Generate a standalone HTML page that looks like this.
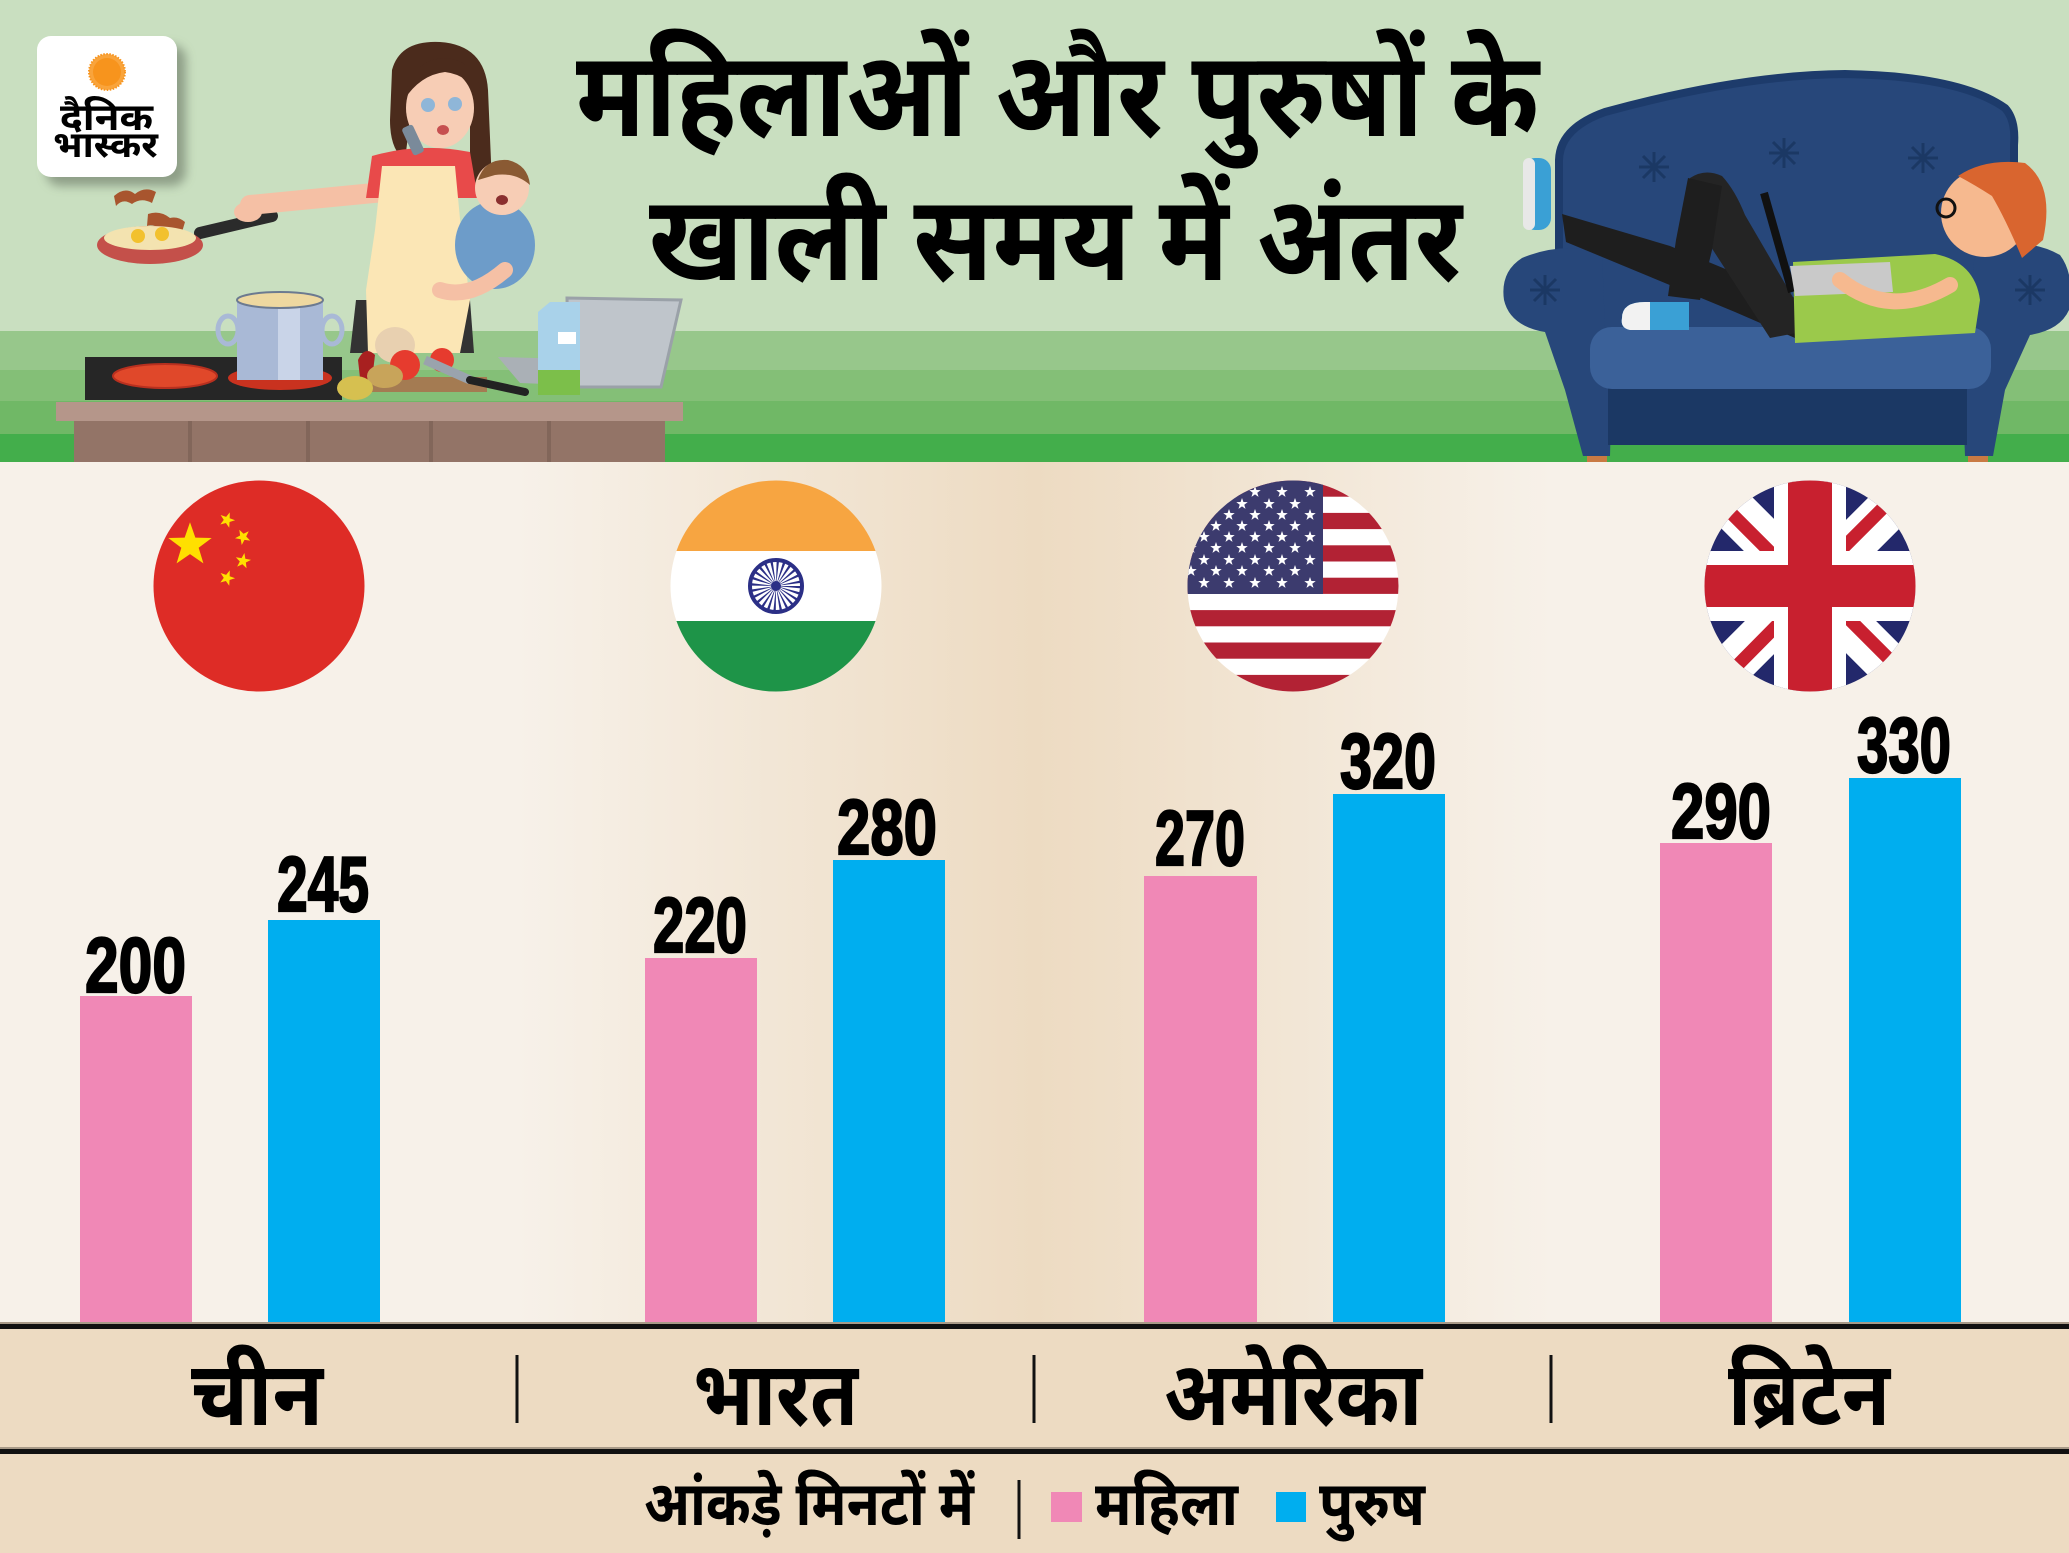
<!DOCTYPE html>
<html>
<head>
<meta charset="utf-8">
<style>
html,body{margin:0;padding:0;background:#f7f1e9;}
svg{display:block;}
.dev{font-family:"Noto Sans Devanagari","Lohit Devanagari","Mukta","Hind","Kohinoor Devanagari","Mangal","FreeSans","Liberation Sans",sans-serif;font-weight:700;fill:#000;}
.num{font-family:"Liberation Sans Narrow","Liberation Sans",sans-serif;font-weight:700;fill:#000;stroke:#000;stroke-width:2.2;}
</style>
</head>
<body>
<svg width="2069" height="1553" viewBox="0 0 2069 1553" xmlns="http://www.w3.org/2000/svg">
<defs>
  <linearGradient id="bg" x1="0" y1="0" x2="1" y2="0">
    <stop offset="0" stop-color="#f7f1e9"/>
    <stop offset="0.25" stop-color="#f7f1e9"/>
    <stop offset="0.5" stop-color="#eddbc2"/>
    <stop offset="0.75" stop-color="#f7f1e9"/>
    <stop offset="1" stop-color="#f7f1e9"/>
  </linearGradient>
  <filter id="sh" x="-20%" y="-20%" width="150%" height="150%">
    <feGaussianBlur stdDeviation="5"/>
  </filter>
  <polygon id="star" points="0,-6 1.41,-1.94 5.71,-1.85 2.28,0.74 3.53,4.85 0,2.4 -3.53,4.85 -2.28,0.74 -5.71,-1.85 -1.41,-1.94"/>
  <clipPath id="cUS"><circle cx="1293" cy="586" r="105.5"/></clipPath>
  <clipPath id="cUK"><circle cx="1810" cy="586" r="105.5"/></clipPath>
  <clipPath id="cIN"><circle cx="776" cy="586" r="105.5"/></clipPath>
</defs>

<!-- HEADER BACKGROUND -->
<rect x="0" y="0" width="2069" height="331" fill="#c9dfc0"/>
<rect x="0" y="331" width="2069" height="39" fill="#97c78b"/>
<rect x="0" y="370" width="2069" height="31" fill="#84bf77"/>
<rect x="0" y="401" width="2069" height="33" fill="#70b866"/>
<rect x="0" y="434" width="2069" height="28" fill="#43ae4b"/>

<!-- LOGO -->
<rect x="46" y="45" width="140" height="141" rx="14" fill="#5f6b5a" opacity="0.55" filter="url(#sh)"/>
<rect x="37" y="36" width="140" height="141" rx="14" fill="#ffffff"/>
<circle cx="107" cy="72" r="18" fill="#f9a43c" stroke="#f7941d" stroke-width="2" stroke-dasharray="1.5 1.5"/>
<circle cx="107" cy="72" r="14" fill="#f7941d"/>
<text class="dev" x="60" y="130" font-size="38" textLength="93" lengthAdjust="spacingAndGlyphs">दैनिक</text>
<text class="dev" x="53" y="157" font-size="36" textLength="105" lengthAdjust="spacingAndGlyphs">भास्कर</text>

<!-- TITLE -->
<text class="dev" x="576" y="136" font-size="120" textLength="963" lengthAdjust="spacingAndGlyphs">महिलाओं और पुरुषों के</text>
<text class="dev" x="649" y="280" font-size="120" textLength="813" lengthAdjust="spacingAndGlyphs">खाली समय में अंतर</text>

<!-- KITCHEN ILLUSTRATION -->
<path d="M114,196 Q125,186 135,194 Q145,186 156,192 L152,203 Q141,197 132,204 Q123,198 116,206 Z" fill="#a8552e"/>
<path d="M148,214 Q160,210 170,218 Q178,216 185,222 L182,232 Q170,226 160,228 Q152,224 147,226 Z" fill="#a8552e"/>
<path d="M200,233 L272,216" stroke="#2b2b2b" stroke-width="12" stroke-linecap="round"/>
<ellipse cx="150" cy="245" rx="53" ry="19" fill="#c4504a"/>
<ellipse cx="150" cy="238" rx="46" ry="12" fill="#f3e3b0"/>
<circle cx="138" cy="236" r="7" fill="#f2c12e"/>
<circle cx="162" cy="234" r="7" fill="#f2c12e"/>
<path d="M384,192 L250,205" stroke="#f5c0a5" stroke-width="20" stroke-linecap="round"/>
<ellipse cx="248" cy="212" rx="14" ry="10" fill="#f5c0a5"/>
<path d="M392,70 Q400,40 440,42 Q485,45 488,90 L492,185 Q480,195 470,178 L470,120 L410,120 L405,160 Q390,150 390,120 Z" fill="#4b2b1c"/>
<path d="M350,353 L356,300 L470,300 L474,353 Z" fill="#333333"/>
<path d="M372,156 Q420,142 470,152 L478,198 L366,198 Z" fill="#e84a4a"/>
<path d="M382,166 L455,166 L462,240 L470,300 L460,353 L368,353 L366,290 L375,230 Z" fill="#fbe6b5"/>
<ellipse cx="440" cy="108" rx="34" ry="40" fill="#f7cdb5"/>
<path d="M404,100 Q410,60 445,58 Q478,60 482,100 Q470,75 445,72 Q420,75 404,100 Z" fill="#4b2b1c"/>
<circle cx="428" cy="105" r="7" fill="#8fb6d8"/>
<circle cx="455" cy="104" r="7" fill="#8fb6d8"/>
<ellipse cx="443" cy="130" rx="6" ry="5" fill="#c65050"/>
<rect x="407" y="125" width="12" height="30" rx="3" fill="#7a8a9a" transform="rotate(-25 413 140)"/>
<ellipse cx="495" cy="245" rx="40" ry="44" fill="#6d9cc9"/>
<circle cx="502" cy="188" r="27" fill="#f7cdb5"/>
<path d="M478,180 Q485,158 508,160 Q528,165 530,185 Q515,172 495,175 Z" fill="#8a5a33"/>
<ellipse cx="502" cy="200" rx="6" ry="5" fill="#8a2f2f"/>
<path d="M440,290 Q470,300 505,270" stroke="#f5c0a5" stroke-width="16" fill="none" stroke-linecap="round"/>
<rect x="85" y="357" width="257" height="43" fill="#262626"/>
<ellipse cx="165" cy="376" rx="52" ry="12" fill="#e0482a" stroke="#b8301f" stroke-width="2"/>
<ellipse cx="280" cy="378" rx="52" ry="12" fill="#c9321f"/>
<ellipse cx="228" cy="330" rx="10" ry="14" fill="none" stroke="#a9b9d6" stroke-width="5"/>
<ellipse cx="332" cy="330" rx="10" ry="14" fill="none" stroke="#a9b9d6" stroke-width="5"/>
<rect x="237" y="300" width="86" height="80" fill="#a9b9d6"/>
<rect x="278" y="300" width="22" height="80" fill="#c9d4e8"/>
<ellipse cx="280" cy="300" rx="43" ry="8" fill="#eed8a0" stroke="#6c7a90" stroke-width="2"/>
<rect x="353" y="377" width="134" height="15" fill="#a47b52"/>
<ellipse cx="395" cy="345" rx="20" ry="18" fill="#e8d0b0"/>
<circle cx="405" cy="365" r="15" fill="#e63b2e"/>
<circle cx="442" cy="360" r="12" fill="#e63b2e"/>
<path d="M358,360 Q365,345 375,355 L372,380 L360,378 Z" fill="#a82020"/>
<ellipse cx="385" cy="376" rx="18" ry="12" fill="#c8a45a"/>
<ellipse cx="355" cy="388" rx="18" ry="12" fill="#d6c050"/>
<path d="M425,360 L470,380" stroke="#9aa3ad" stroke-width="9"/>
<path d="M470,380 L525,392" stroke="#222" stroke-width="8" stroke-linecap="round"/>
<polygon points="498,357 571,359 571,385 520,383" fill="#aab0b6"/>
<polygon points="567,298 681,300 661,387 569,387" fill="#bfc5cb" stroke="#9aa1a8" stroke-width="3"/>
<polygon points="538,312 550,302 580,302 580,395 538,395" fill="#a9d2ea"/>
<rect x="538" y="370" width="42" height="25" fill="#7cbf4a"/>
<rect x="558" y="332" width="18" height="12" fill="#ffffff"/>
<rect x="56" y="402" width="627" height="19" fill="#b5968a"/>
<rect x="74" y="421" width="591" height="41" fill="#937467"/>
<rect x="188" y="421" width="4" height="41" fill="#82665a"/>
<rect x="306" y="421" width="4" height="41" fill="#82665a"/>
<rect x="429" y="421" width="4" height="41" fill="#82665a"/>
<rect x="547" y="421" width="4" height="41" fill="#82665a"/>

<!-- SOFA -->
<path d="M1559,335 L1559,160 Q1560,128 1605,112 Q1740,75 1845,74 Q1960,76 2005,108 Q2016,120 2014,145 L2014,335 Z" fill="#27477a" stroke="#1d3b6b" stroke-width="8"/>
<g stroke="#1b3864" stroke-width="3">
<path d="M1654,152 L1654,182 M1639,167 L1669,167 M1643,156 L1665,178 M1665,156 L1643,178"/>
<path d="M1784,138 L1784,168 M1769,153 L1799,153 M1773,142 L1795,164 M1795,142 L1773,164"/>
<path d="M1923,143 L1923,173 M1908,158 L1938,158 M1912,147 L1934,169 M1934,147 L1912,169"/>
</g>
<path d="M1602,252 Q1560,242 1522,258 Q1500,272 1504,300 Q1510,326 1545,332 L1565,390 L1583,456 L1610,456 L1612,380 L1605,330 Z" fill="#27477a"/>
<path d="M1975,250 Q2025,235 2060,255 Q2075,275 2069,310 Q2060,330 2030,335 L2005,390 L1993,456 L1965,456 L1962,380 L1968,330 Z" fill="#27477a"/>
<g stroke="#1b3864" stroke-width="3">
<path d="M1545,275 L1545,305 M1530,290 L1560,290 M1534,279 L1556,301 M1556,279 L1534,301"/>
<path d="M2030,275 L2030,305 M2015,290 L2045,290 M2019,279 L2041,301 M2041,279 L2019,301"/>
</g>
<rect x="1608" y="385" width="359" height="60" fill="#1b3864"/>
<rect x="1590" y="327" width="401" height="62" rx="22" fill="#3b6199"/>
<rect x="1587" y="456" width="20" height="6" fill="#c97a43"/>
<rect x="1968" y="456" width="20" height="6" fill="#c97a43"/>
<!-- man -->
<path d="M1562,214 L1670,246 L1800,300 L1795,338 L1735,312 L1566,242 Z" fill="#1e1e1e"/>
<path d="M1690,178 Q1705,168 1722,176 Q1735,190 1745,215 L1812,330 L1770,338 L1700,230 Z" fill="#242424"/>
<path d="M1688,178 L1722,186 L1712,250 L1700,300 L1668,296 L1676,240 Z" fill="#1e1e1e"/>
<rect x="1523" y="158" width="28" height="72" rx="12" fill="#3aa0d5"/>
<rect x="1523" y="158" width="12" height="72" rx="6" fill="#e8e8e8"/>
<path d="M1622,318 Q1622,302 1645,302 L1689,302 L1689,330 L1630,330 Q1620,328 1622,318 Z" fill="#3aa0d5"/>
<path d="M1622,318 Q1622,302 1645,302 L1650,302 L1650,330 L1630,330 Q1620,328 1622,318 Z" fill="#f2f2f2"/>
<path d="M1793,262 L1935,254 Q1975,262 1980,300 L1975,333 L1795,343 Z" fill="#9bc94b"/>
<circle cx="1985" cy="213" r="44" fill="#f6b98f"/>
<path d="M1958,176 Q1985,158 2025,163 Q2055,185 2043,240 L2022,258 Q2006,220 1992,196 Q1975,185 1958,176 Z" fill="#d9652f"/>
<circle cx="1946" cy="208" r="9" fill="none" stroke="#111" stroke-width="3"/>
<path d="M1764,193 L1792,292" stroke="#111" stroke-width="8"/>
<polygon points="1790,266 1890,262 1893,292 1795,296" fill="#c9c9c9"/>
<path d="M1950,285 Q1890,320 1840,280" stroke="#f6b98f" stroke-width="16" fill="none" stroke-linecap="round"/>

<!-- CHART BACKGROUND -->
<rect x="0" y="462" width="2069" height="863" fill="url(#bg)"/>

<!-- FLAGS -->
<circle cx="259" cy="586" r="105.5" fill="#de2c26"/>
<g fill="#ffe000">
<use href="#star" transform="translate(190,545) scale(3.8)"/>
<use href="#star" transform="translate(227,520) rotate(20) scale(1.35)"/>
<use href="#star" transform="translate(243,537) rotate(45) scale(1.35)"/>
<use href="#star" transform="translate(243,561) rotate(10) scale(1.35)"/>
<use href="#star" transform="translate(227,578) rotate(20) scale(1.35)"/>
</g>
<g clip-path="url(#cIN)">
<rect x="670" y="480" width="212" height="71" fill="#f7a541"/>
<rect x="670" y="551" width="212" height="70" fill="#ffffff"/>
<rect x="670" y="621" width="212" height="72" fill="#1e9448"/>
</g>
<circle cx="776" cy="586" r="13" fill="none" stroke="#2b2f86" stroke-width="24" stroke-dasharray="1.3 2.1"/>
<circle cx="776" cy="586" r="26" fill="none" stroke="#2b2f86" stroke-width="4"/>
<circle cx="776" cy="586" r="5" fill="#2b2f86"/>
<g clip-path="url(#cUS)">
<rect x="1187" y="480" width="212" height="213" fill="#ffffff"/>
<g fill="#b22234">
<rect x="1187" y="480.5" width="212" height="16.2"/>
<rect x="1187" y="512.9" width="212" height="16.2"/>
<rect x="1187" y="545.3" width="212" height="16.2"/>
<rect x="1187" y="577.7" width="212" height="16.2"/>
<rect x="1187" y="610.1" width="212" height="16.2"/>
<rect x="1187" y="642.5" width="212" height="16.2"/>
<rect x="1187" y="674.9" width="212" height="18"/>
</g>
<rect x="1187" y="480" width="136" height="114" fill="#3c3b6e"/>
<g fill="#ffffff">
<use href="#star" x="1204" y="492"/><use href="#star" x="1229" y="492"/><use href="#star" x="1255" y="492"/><use href="#star" x="1282" y="492"/><use href="#star" x="1310" y="492"/>
<use href="#star" x="1191" y="504"/><use href="#star" x="1216" y="504"/><use href="#star" x="1242" y="504"/><use href="#star" x="1269" y="504"/><use href="#star" x="1295" y="504"/>
<use href="#star" x="1204" y="515"/><use href="#star" x="1229" y="515"/><use href="#star" x="1255" y="515"/><use href="#star" x="1282" y="515"/><use href="#star" x="1310" y="515"/>
<use href="#star" x="1191" y="526"/><use href="#star" x="1216" y="526"/><use href="#star" x="1242" y="526"/><use href="#star" x="1269" y="526"/><use href="#star" x="1295" y="526"/>
<use href="#star" x="1204" y="537"/><use href="#star" x="1229" y="537"/><use href="#star" x="1255" y="537"/><use href="#star" x="1282" y="537"/><use href="#star" x="1310" y="537"/>
<use href="#star" x="1191" y="548"/><use href="#star" x="1216" y="548"/><use href="#star" x="1242" y="548"/><use href="#star" x="1269" y="548"/><use href="#star" x="1295" y="548"/>
<use href="#star" x="1204" y="560"/><use href="#star" x="1229" y="560"/><use href="#star" x="1255" y="560"/><use href="#star" x="1282" y="560"/><use href="#star" x="1310" y="560"/>
<use href="#star" x="1191" y="571"/><use href="#star" x="1216" y="571"/><use href="#star" x="1242" y="571"/><use href="#star" x="1269" y="571"/><use href="#star" x="1295" y="571"/>
<use href="#star" x="1204" y="583"/><use href="#star" x="1229" y="583"/><use href="#star" x="1255" y="583"/><use href="#star" x="1282" y="583"/><use href="#star" x="1310" y="583"/>
</g>
</g>
<g clip-path="url(#cUK)">
<rect x="1704" y="480" width="213" height="213" fill="#23286b"/>
<path d="M1704,480 L1917,693 M1917,480 L1704,693" stroke="#ffffff" stroke-width="44"/>
<path d="M1704,486 L1800,582 M1820,590 L1917,687 M1911,480 L1814,577 M1806,596 L1710,693" stroke="#c8202f" stroke-width="13"/>
<rect x="1774" y="480" width="72" height="213" fill="#ffffff"/>
<rect x="1704" y="551" width="213" height="70" fill="#ffffff"/>
<rect x="1788" y="480" width="44" height="213" fill="#c8202f"/>
<rect x="1704" y="565" width="213" height="42" fill="#c8202f"/>
</g>

<!-- BARS -->
<rect x="80" y="996" width="112" height="329" fill="#f088b6"/>
<rect x="268" y="920" width="112" height="405" fill="#00aeef"/>
<rect x="645" y="958" width="112" height="367" fill="#f088b6"/>
<rect x="833" y="860" width="112" height="465" fill="#00aeef"/>
<rect x="1144" y="876" width="113" height="449" fill="#f088b6"/>
<rect x="1333" y="794" width="112" height="531" fill="#00aeef"/>
<rect x="1660" y="843" width="112" height="482" fill="#f088b6"/>
<rect x="1849" y="778" width="112" height="547" fill="#00aeef"/>

<!-- VALUE LABELS -->
<text class="num" x="85" y="992" font-size="78" textLength="101" lengthAdjust="spacingAndGlyphs">200</text>
<text class="num" x="277" y="911" font-size="78" textLength="92" lengthAdjust="spacingAndGlyphs">245</text>
<text class="num" x="653" y="952" font-size="78" textLength="94" lengthAdjust="spacingAndGlyphs">220</text>
<text class="num" x="837" y="854" font-size="78" textLength="100" lengthAdjust="spacingAndGlyphs">280</text>
<text class="num" x="1155" y="865" font-size="78" textLength="90" lengthAdjust="spacingAndGlyphs">270</text>
<text class="num" x="1340" y="788" font-size="78" textLength="96" lengthAdjust="spacingAndGlyphs">320</text>
<text class="num" x="1671" y="838" font-size="78" textLength="100" lengthAdjust="spacingAndGlyphs">290</text>
<text class="num" x="1857" y="772" font-size="78" textLength="94" lengthAdjust="spacingAndGlyphs">330</text>

<!-- BOTTOM BAND -->
<rect x="0" y="1325" width="2069" height="228" fill="#eddbc2"/>
<rect x="0" y="1322" width="2069" height="2" fill="#a89a88"/>
<rect x="0" y="1324" width="2069" height="5" fill="#111111"/>
<rect x="0" y="1447" width="2069" height="2" fill="#a89a88"/>
<rect x="0" y="1449" width="2069" height="5" fill="#111111"/>

<text class="dev" x="191" y="1425" font-size="90" textLength="132" lengthAdjust="spacingAndGlyphs">चीन</text>
<text class="dev" x="693" y="1425" font-size="90" textLength="165" lengthAdjust="spacingAndGlyphs">भारत</text>
<text class="dev" x="1164" y="1425" font-size="90" textLength="258" lengthAdjust="spacingAndGlyphs">अमेरिका</text>
<text class="dev" x="1728" y="1425" font-size="90" textLength="162" lengthAdjust="spacingAndGlyphs">ब्रिटेन</text>
<rect x="515.5" y="1355" width="3" height="68" fill="#111"/>
<rect x="1032.5" y="1355" width="3" height="68" fill="#111"/>
<rect x="1549.5" y="1355" width="3" height="68" fill="#111"/>

<!-- LEGEND -->
<text class="dev" x="644" y="1525" font-size="62" font-weight="600" textLength="330" lengthAdjust="spacingAndGlyphs">आंकड़े मिनटों में</text>
<rect x="1017.5" y="1480" width="3" height="59" fill="#111"/>
<rect x="1051" y="1492" width="31" height="30" fill="#f088b6"/>
<text class="dev" x="1095" y="1525" font-size="62" font-weight="600" textLength="143" lengthAdjust="spacingAndGlyphs">महिला</text>
<rect x="1276" y="1492" width="30" height="30" fill="#00aeef"/>
<text class="dev" x="1319" y="1525" font-size="62" font-weight="600" textLength="106" lengthAdjust="spacingAndGlyphs">पुरुष</text>
</svg>
</body>
</html>
